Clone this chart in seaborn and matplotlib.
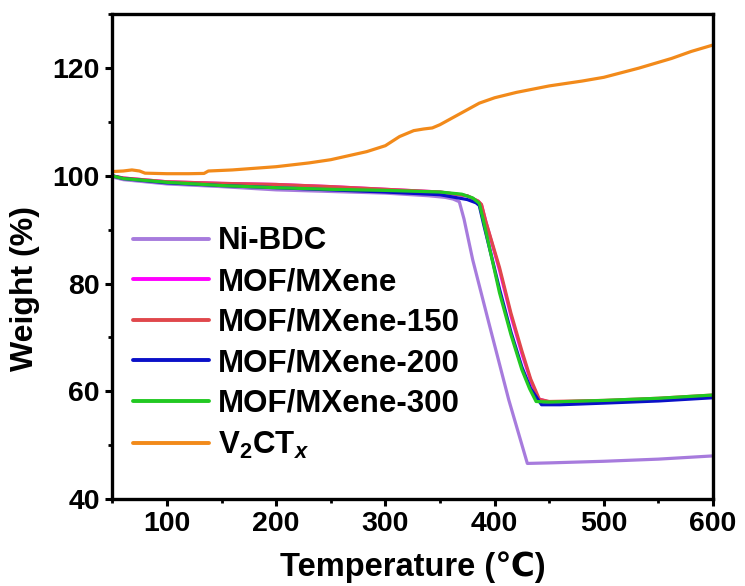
import numpy as np
import pandas as pd
import matplotlib
matplotlib.use("Agg")
import matplotlib.pyplot as plt
from matplotlib.ticker import MultipleLocator
import seaborn as sns

# ---- data ----
T_ni = [50, 60, 80, 100, 150, 200, 250, 300, 340, 355, 362, 367.7, 372, 380, 395, 413, 430, 450, 500, 550, 600]
W_ni = [99.8, 99.3, 98.9, 98.5, 98.0, 97.4, 97.1, 96.8, 96.3, 96.0, 95.7, 95.2, 92.0, 84.4, 72.5, 58.4, 46.6, 46.7, 47.0, 47.4, 48.0]

T_mm = [50, 60, 100, 150, 200, 250, 300, 350, 375, 385, 388, 392, 404.5, 415, 425, 433, 440, 450, 500, 550, 600]
W_mm = [100.0, 99.6, 98.9, 98.6, 98.4, 98.0, 97.5, 97.0, 96.3, 95.3, 94.6, 91.5, 82.5, 74.0, 67.0, 62.0, 58.6, 58.0, 58.2, 58.6, 59.2]

T_150 = [50, 60, 100, 150, 200, 250, 300, 350, 375, 385, 388, 392, 404.5, 415, 425, 433, 441, 450, 500, 550, 600]
W_150 = [100.0, 99.6, 98.9, 98.6, 98.4, 98.0, 97.5, 97.0, 96.3, 95.3, 94.7, 91.5, 83.0, 74.5, 67.5, 62.3, 58.5, 58.1, 58.3, 58.7, 59.3]

T_200 = [50, 60, 100, 150, 200, 250, 300, 350, 375, 383, 386, 390, 404.5, 415, 425, 433, 443, 460, 500, 550, 600]
W_200 = [100.0, 99.5, 98.7, 98.2, 97.8, 97.4, 97.0, 96.5, 95.6, 95.0, 94.5, 91.0, 79.0, 71.0, 64.5, 60.5, 57.5, 57.5, 57.8, 58.2, 58.8]

T_300 = [50, 60, 100, 150, 200, 250, 300, 350, 370, 380, 386, 390, 404.5, 415, 425, 432, 438, 450, 500, 550, 600]
W_300 = [100.0, 99.5, 98.8, 98.2, 97.8, 97.5, 97.3, 97.0, 96.6, 95.9, 94.9, 91.5, 78.3, 70.5, 64.0, 60.5, 58.1, 58.0, 58.3, 58.7, 59.3]

T_v = [50, 60, 68, 75, 80, 100, 120, 134, 138, 160, 200, 230, 250, 283, 300, 313, 326, 335, 343, 350, 368, 386, 400, 420, 450, 480, 500, 532, 562, 580, 600]
W_v = [100.8, 100.9, 101.1, 100.9, 100.5, 100.4, 100.4, 100.45, 100.9, 101.1, 101.7, 102.4, 103.0, 104.5, 105.6, 107.3, 108.4, 108.7, 108.9, 109.5, 111.5, 113.5, 114.5, 115.5, 116.7, 117.6, 118.3, 120.0, 121.8, 123.1, 124.3]

labels = ["Ni-BDC", "MOF/MXene", "MOF/MXene-150", "MOF/MXene-200", "MOF/MXene-300", r"V$_2$CT$_x$"]
colors = ["#A77BDD", "#FF00FF", "#E0474C", "#0A10C8", "#22C922", "#F28A1A"]
series_T = [T_ni, T_mm, T_150, T_200, T_300, T_v]
series_W = [W_ni, W_mm, W_150, W_200, W_300, W_v]

x_ticks = [100, 200, 300, 400, 500, 600]
y_ticks = [40, 60, 80, 100, 120]

# ---- style ----
sns.set_theme(style="ticks")
plt.rcParams["font.family"] = ["Liberation Sans", "DejaVu Sans", "Noto Sans CJK SC"]
plt.rcParams["font.weight"] = "bold"
plt.rcParams["text.color"] = "black"
plt.rcParams["axes.labelcolor"] = "black"
plt.rcParams["xtick.color"] = "black"
plt.rcParams["ytick.color"] = "black"
plt.rcParams["mathtext.fontset"] = "custom"
plt.rcParams["mathtext.rm"] = "Liberation Sans:bold"
plt.rcParams["mathtext.it"] = "Liberation Sans:bold:italic"
plt.rcParams["mathtext.bf"] = "Liberation Sans:bold"

fig = plt.figure(figsize=(7.45, 5.86), dpi=100)
ax = fig.add_axes([0.1507, 0.1485, 0.8064, 0.8271])

rows = []
for lab, T, W in zip(labels, series_T, series_W):
    for t, w in zip(T, W):
        rows.append((lab, t, w))
df = pd.DataFrame(rows, columns=["sample", "T", "W"])

for lab, col in zip(labels, colors):
    sub = df[df["sample"] == lab]
    sns.lineplot(data=sub, x="T", y="W", ax=ax, color=col, lw=2.3,
                 estimator=None, sort=False, label=lab)

ax.set_xlim(50, 600)
ax.set_ylim(40, 130)
ax.set_xticks(x_ticks)
ax.set_yticks(y_ticks)
ax.xaxis.set_minor_locator(MultipleLocator(50))
ax.yaxis.set_minor_locator(MultipleLocator(10))
ax.tick_params(axis="both", which="major", direction="out", length=5, width=2.2,
               labelsize=20.5, pad=4, colors="black")
ax.tick_params(axis="both", which="minor", direction="out", length=3, width=2.0,
               colors="black")
for lbl in ax.get_xticklabels() + ax.get_yticklabels():
    lbl.set_fontweight("bold")
for s in ax.spines.values():
    s.set_linewidth(2.4)
    s.set_color("black")

ax.set_xlabel("Temperature (\u2103)", fontsize=23.5, fontweight="bold", color="black")
ax.set_ylabel("Weight (%)", fontsize=23, fontweight="bold", color="black")
ax.xaxis.set_label_coords(0.5, -0.107)
ax.yaxis.set_label_coords(-0.12, 0.435)

leg = ax.legend(loc="upper left", bbox_to_anchor=(0.013, 0.588), frameon=False,
                fontsize=22.5, handlelength=2.45, handletextpad=0.28,
                labelspacing=0.34, borderaxespad=0.0)
for line in leg.get_lines():
    line.set_linewidth(2.8)
for t in leg.get_texts():
    t.set_fontweight("bold")
    t.set_color("black")

fig.savefig("out.png", dpi=100)
